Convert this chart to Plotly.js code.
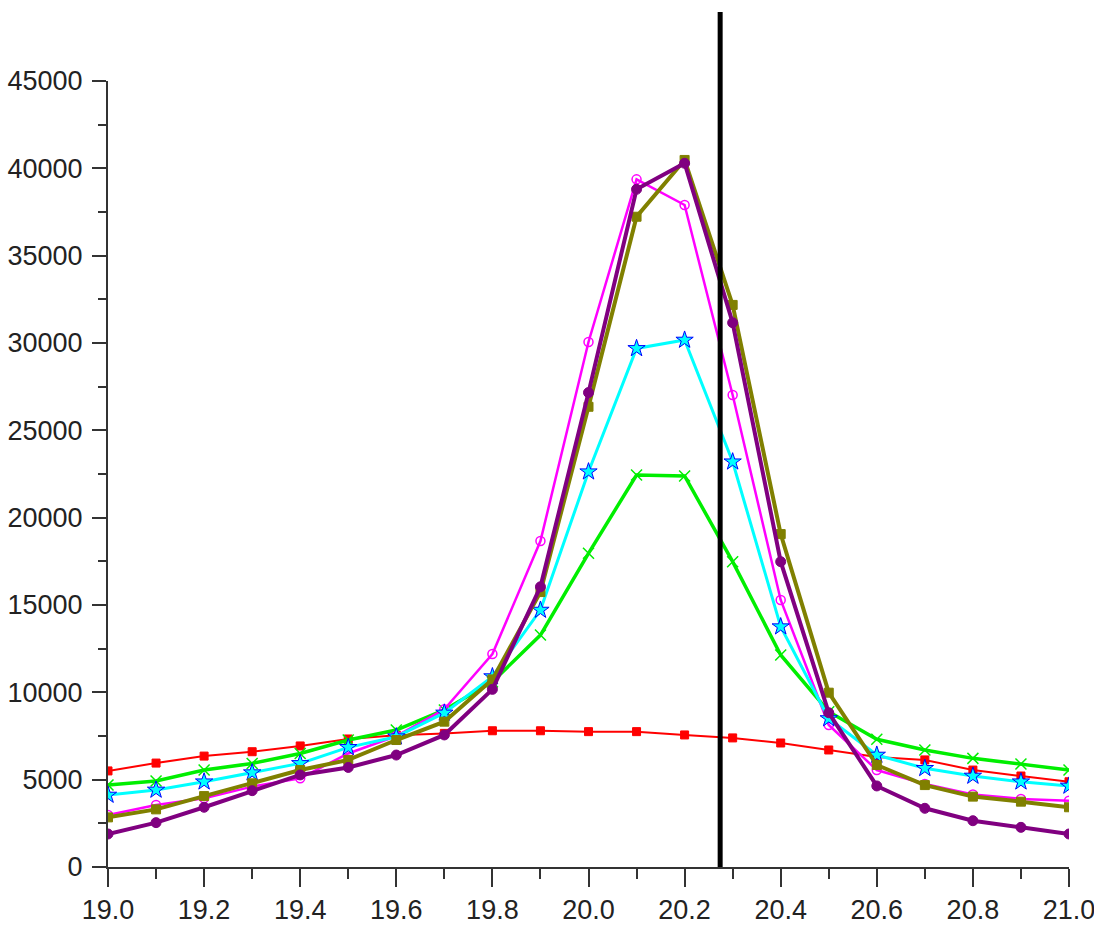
<!DOCTYPE html>
<html>
<head>
<meta charset="utf-8">
<script src="https://cdn.plot.ly/plotly-3.0.1.min.js"></script>
<style>
  html, body { margin: 0; padding: 0; background: #ffffff; }
  #chart { width: 1094px; height: 927px; }
</style>
</head>
<body>
<div id="chart"></div>
<script>
const xValues = [19.0, 19.1, 19.2, 19.3, 19.4, 19.5, 19.6, 19.7, 19.8, 19.9, 20.0,
                 20.1, 20.2, 20.3, 20.4, 20.5, 20.6, 20.7, 20.8, 20.9, 21.0];

const redSeries     = [5500, 5950, 6350, 6600, 6930, 7330, 7550, 7650, 7800, 7800, 7750,
                       7750, 7560, 7390, 7100, 6700, 6300, 6130, 5550, 5210, 4880];
const greenSeries   = [4700, 4920, 5550, 5930, 6500, 7270, 7840, 8990, 10600, 13280, 17960,
                       22440, 22390, 17480, 12140, 8890, 7310, 6700, 6220, 5900, 5550];
const cyanSeries    = [4120, 4410, 4880, 5400, 5930, 6850, 7460, 8820, 10900, 14710, 22630,
                       29690, 30170, 23200, 13760, 8500, 6410, 5650, 5210, 4880, 4640];
const magentaSeries = [2980, 3550, 3930, 4600, 5080, 6500, 7500, 9030, 12190, 18660, 30060,
                       39370, 37900, 27020, 15290, 8130, 5550, 4750, 4150, 3900, 3800];
const oliveSeries   = [2840, 3300, 4060, 4790, 5550, 6130, 7270, 8320, 10740, 15740, 26350,
                       37230, 40480, 32180, 19060, 9980, 5840, 4690, 4030, 3740, 3420];
const purpleSeries  = [1890, 2540, 3420, 4370, 5270, 5700, 6410, 7560, 10170, 16040, 27160,
                       38800, 40290, 31160, 17480, 8830, 4640, 3360, 2650, 2270, 1890];

const markerX = 20.274;

const xTickVals = [19.0, 19.2, 19.4, 19.6, 19.8, 20.0, 20.2, 20.4, 20.6, 20.8, 21.0];
const xTickText = ['19.0', '19.2', '19.4', '19.6', '19.8', '20.0', '20.2', '20.4', '20.6', '20.8', '21.0'];
const yTickVals = [0, 5000, 10000, 15000, 20000, 25000, 30000, 35000, 40000, 45000];
const yTickText = ['0', '5000', '10000', '15000', '20000', '25000', '30000', '35000', '40000', '45000'];

function trace(y, color, width, symbol, size, mline) {
  return {
    x: xValues, y: y, type: 'scatter', mode: 'lines+markers',
    line: { color: color, width: width },
    marker: { symbol: symbol, size: size, color: color,
              line: mline || { color: color, width: 1 } },
    showlegend: false, hoverinfo: 'x+y'
  };
}

const data = [
  trace(redSeries, '#ff0000', 2, 'square', 8),
  trace(greenSeries, '#00ee00', 3.5, 'x-thin-open', 11, { color: '#00dd00', width: 1.5 }),
  trace(magentaSeries, '#ff00ff', 2.5, 'circle-open', 9, { color: '#ff00ff', width: 1.5 }),
  trace(cyanSeries, '#00ffff', 3, 'star', 13, { color: '#0000ff', width: 1 }),
  trace(oliveSeries, '#808000', 4, 'square', 9),
  trace(purpleSeries, '#800080', 4, 'circle', 10)
];

const tickFont = { family: '"Liberation Sans", Arial, sans-serif', size: 27, color: '#222222' };

const layout = {
  width: 1094, height: 927,
  margin: { l: 108, r: 25, t: 81, b: 60 },
  paper_bgcolor: '#ffffff', plot_bgcolor: '#ffffff',
  xaxis: {
    range: [19.0, 21.0], showgrid: false, zeroline: false,
    showline: true, linecolor: '#333333', linewidth: 2,
    ticks: 'outside', ticklen: 18, tickwidth: 2, tickcolor: '#333333',
    tickmode: 'array', tickvals: xTickVals, ticktext: xTickText,
    tickfont: tickFont, ticklabelstandoff: 0, ticklabeloverflow: 'allow',
    minor: { dtick: 0.1, tick0: 19.0, ticks: 'outside', ticklen: 10, tickwidth: 2, tickcolor: '#333333', showgrid: false }
  },
  yaxis: {
    range: [0, 45000], showgrid: false, zeroline: false,
    showline: true, linecolor: '#333333', linewidth: 2,
    ticks: 'outside', ticklen: 14, tickwidth: 2, tickcolor: '#333333',
    tickmode: 'array', tickvals: yTickVals, ticktext: yTickText,
    tickfont: tickFont, ticklabelstandoff: 4, ticklabeloverflow: 'allow',
    minor: { dtick: 2500, tick0: 0, ticks: 'outside', ticklen: 8, tickwidth: 2, tickcolor: '#333333', showgrid: false }
  },
  shapes: [{
    type: 'line', xref: 'x', yref: 'paper',
    x0: markerX, x1: markerX, y0: 0, y1: 1.0878,
    line: { color: '#000000', width: 5 }, layer: 'above'
  }]
};

Plotly.newPlot('chart', data, layout, { displayModeBar: false, staticPlot: true });
</script>
</body>
</html>
